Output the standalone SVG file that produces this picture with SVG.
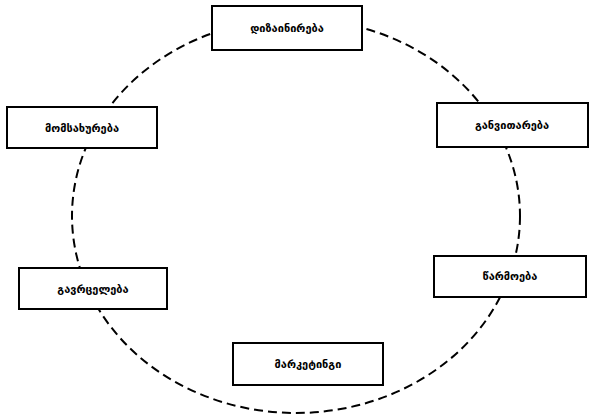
<svg xmlns="http://www.w3.org/2000/svg" width="591" height="416" viewBox="0 0 591 416">
<style>
.box{fill:#fff;stroke:#000;stroke-width:2}
.lbl{font-family:"DejaVu Sans",sans-serif;font-size:11px;font-weight:bold;text-anchor:middle;dominant-baseline:central;fill:#000}
.ring{fill:none;stroke:#000;stroke-width:2;stroke-dasharray:9 5}
</style>
<rect width="591" height="416" fill="#fff"/>
<g id="connectors">
<ellipse class="ring" cx="296" cy="216" rx="224" ry="197"/>
</g>
<g id="n1"><rect class="box" x="212" y="6" width="150" height="44"/><text class="lbl" x="287" y="28">დიზაინირება</text></g>
<g id="n2"><rect class="box" x="437" y="103" width="151" height="44"/><text class="lbl" x="512" y="125">განვითარება</text></g>
<g id="n3"><rect class="box" x="434" y="256" width="152" height="41"/><text class="lbl" x="510" y="276">წარმოება</text></g>
<g id="n4"><rect class="box" x="233" y="343" width="150" height="42"/><text class="lbl" x="308" y="364">მარკეტინგი</text></g>
<g id="n5"><rect class="box" x="19" y="268" width="148" height="41"/><text class="lbl" x="93" y="289">გავრცელება</text></g>
<g id="n6"><rect class="box" x="7" y="107" width="150" height="41"/><text class="lbl" x="82" y="128">მომსახურება</text></g>
</svg>
